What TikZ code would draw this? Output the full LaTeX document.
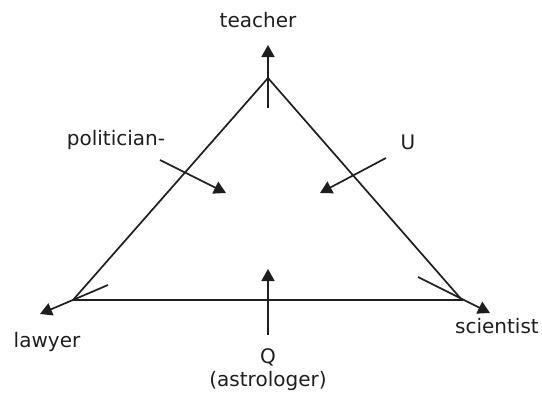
\documentclass[tikz,border=0pt]{standalone}
\usepackage{fontspec}
\setmainfont{DejaVu Sans}
\usetikzlibrary{arrows.meta}
\definecolor{ink}{HTML}{1E1E1E}
\tikzset{
  lbl/.style={font=\fontsize{20}{22}\selectfont, text=ink, inner sep=0pt, anchor=base},
  edge/.style={draw=ink, line width=1.7pt},
  pointer/.style={draw=ink, line width=1.7pt, -{Triangle[length=12pt,width=13pt]}}
}
\begin{document}
\begin{tikzpicture}[x=1pt,y=-1pt]
\useasboundingbox (0,0) rectangle (542,394);
% triangle vertices
\coordinate (top) at (268,78);
\coordinate (left) at (73,300);
\coordinate (right) at (462,300);
\draw[edge] (top) -- (left) -- (right) -- cycle;
% labels
\node[lbl] (teacher) at (258,27) {teacher};
\node[lbl] (lawyer) at (47,347) {lawyer};
\node[lbl] (scientist) at (497,333) {scientist};
\node[lbl] (politician) at (116,145) {politician-};
\node[lbl] (u) at (408,149) {U};
\node[lbl] (q) at (268,363) {Q};
\node[lbl] (astro) at (268,386) {(astrologer)};
% arrow coordinates
\coordinate (tS) at (268,108);
\coordinate (tE) at (268,45);
\coordinate (lS) at (108,285);
\coordinate (lE) at (40,314);
\coordinate (rS) at (418,277);
\coordinate (rE) at (490,313);
\coordinate (pS) at (160,160);
\coordinate (pE) at (226,193);
\coordinate (uS) at (386,158);
\coordinate (uE) at (320,193);
\coordinate (qS) at (268,335);
\coordinate (qE) at (268,269);
\draw[pointer] (tS) -- (tE);
\draw[pointer] (lS) -- (lE);
\draw[pointer] (rS) -- (rE);
\draw[pointer] (pS) -- (pE);
\draw[pointer] (uS) -- (uE);
\draw[pointer] (qS) -- (qE);
\end{tikzpicture}
\end{document}
